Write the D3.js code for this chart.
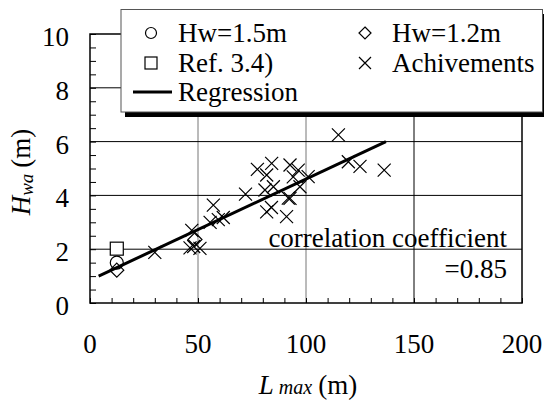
<!DOCTYPE html>
<html lang="en">
<head>
<meta charset="UTF-8">
<title>Hwa vs Lmax</title>
<style>
  body { margin: 0; background: #fff; }
  svg { font-family: "Liberation Serif", "Times New Roman", serif; }
</style>
</head>
<body>
<script src="https://d3js.org/d3.v7.min.js"></script>
<div id="chart"></div>
<script>
// data
var achX = [30, 46.3, 50.9, 47.1, 48, 55.6, 57.1, 61.7, 59.4, 72, 77.5, 84.1, 81.8, 81, 84.9, 81.8, 84, 91, 92.6, 92.6, 96.4, 97.2, 94.1, 101, 91.8, 115, 119.6, 125, 136.2]
var achY = [1.88, 2.05, 2.03, 2.7, 2.1, 3.0, 3.64, 3.18, 3.1, 4.05, 4.97, 5.19, 4.76, 4.2, 4.32, 3.39, 3.55, 3.21, 3.89, 5.13, 4.94, 4.32, 4.69, 4.7, 3.9, 6.25, 5.25, 5.08, 4.94]
var hw15 = [[12.4, 1.5]]
var hw12 = [[12.4, 1.22], [48.6, 2.36]]
var ref34 = [[12.4, 2.02]]
var regX = [4, 137]
var regY = [1.0, 6.0]
var xTicks = [0, 50, 100, 150, 200]
var yTicks = [0, 2, 4, 6, 8, 10]

var fs = 27
var width = 544, height = 403
var svg = d3.select("#chart").append("svg").attr("width", width).attr("height", height)

var x = d3.scaleLinear().domain([0, 200]).range([90, 522])
var y = d3.scaleLinear().domain([0, 10]).range([303, 34])

// grid
svg.selectAll(".vg").data([50, 100, 150]).enter().append("line")
  .attr("x1", d => x(d)).attr("x2", d => x(d)).attr("y1", y(0)).attr("y2", y(10))
  .attr("stroke", d => d == 150 ? "#000" : "#777").attr("stroke-width", 1)
svg.selectAll(".hg").data([2, 4, 6, 8]).enter().append("line")
  .attr("x1", x(0)).attr("x2", x(200)).attr("y1", d => y(d)).attr("y2", d => y(d))
  .attr("stroke", "#000").attr("stroke-width", 1)

// minor ticks (inward)
svg.append("g").attr("transform", "translate(0," + y(0) + ")")
  .call(d3.axisTop(x).tickValues(d3.range(0, 201, 10)).tickSize(5).tickFormat(""))
  .call(g => g.select(".domain").remove())
svg.append("g").attr("transform", "translate(" + x(0) + ",0)")
  .call(d3.axisRight(y).tickValues(d3.range(0, 10.01, 0.5)).tickSize(6).tickFormat(""))
  .call(g => g.select(".domain").remove())

// frame
svg.append("rect").attr("x", x(0)).attr("y", y(10)).attr("width", x(200) - x(0)).attr("height", y(0) - y(10))
  .attr("fill", "none").attr("stroke", "#000").attr("stroke-width", 1.5)

// tick labels
svg.selectAll(".xl").data(xTicks).enter().append("text")
  .attr("x", d => x(d)).attr("y", 353).attr("text-anchor", "middle")
  .style("font-size", fs + "px").text(d => d)
svg.selectAll(".yl").data(yTicks).enter().append("text")
  .attr("x", 69).attr("y", d => y(d) + 12).attr("text-anchor", "end")
  .style("font-size", fs + "px").text(d => d)

// axis titles
var xt = svg.append("text").attr("x", 308).attr("y", 394).attr("text-anchor", "middle").style("font-size", fs + "px")
xt.append("tspan").style("font-style", "italic").text("L")
xt.append("tspan").style("font-style", "italic").style("font-size", (fs - 7) + "px").attr("dx", 5).text("max")
xt.append("tspan").attr("dx", 6).text("(m)")

var yt = svg.append("text").attr("transform", "translate(30,172) rotate(-90)").attr("text-anchor", "middle").style("font-size", fs + "px")
yt.append("tspan").style("font-style", "italic").text("H")
yt.append("tspan").style("font-style", "italic").style("font-size", (fs - 8) + "px").attr("dy", 3).text("wa")
yt.append("tspan").attr("dy", -3).attr("dx", 6).text("(m)")

// regression
svg.append("line").attr("x1", x(regX[0])).attr("y1", y(regY[0])).attr("x2", x(regX[1])).attr("y2", y(regY[1]))
  .attr("stroke", "#000").attr("stroke-width", 3)

// markers
var s = 6.5
svg.selectAll(".ach").data(d3.zip(achX, achY)).enter().append("path")
  .attr("d", d => { var cx = x(d[0]), cy = y(d[1]); return "M" + (cx - s) + "," + (cy - s) + "L" + (cx + s) + "," + (cy + s) + "M" + (cx - s) + "," + (cy + s) + "L" + (cx + s) + "," + (cy - s) })
  .attr("stroke", "#000").attr("stroke-width", 1.2).attr("fill", "none")
svg.selectAll(".sq").data(ref34).enter().append("rect")
  .attr("x", d => x(d[0]) - 6.5).attr("y", d => y(d[1]) - 6.5).attr("width", 13).attr("height", 13)
  .attr("fill", "#fff").attr("stroke", "#000").attr("stroke-width", 1.2)
svg.selectAll(".ci").data(hw15).enter().append("circle")
  .attr("cx", d => x(d[0])).attr("cy", d => y(d[1])).attr("r", 6.5)
  .attr("fill", "none").attr("stroke", "#000").attr("stroke-width", 1.2)
svg.selectAll(".di").data(hw12).enter().append("path")
  .attr("d", d => { var cx = x(d[0]), cy = y(d[1]); return "M" + cx + "," + (cy - 7) + "L" + (cx + 7) + "," + cy + "L" + cx + "," + (cy + 7) + "L" + (cx - 7) + "," + cy + "Z" })
  .attr("fill", "none").attr("stroke", "#000").attr("stroke-width", 1.2)

// correlation text
svg.append("text").attr("x", 507).attr("y", 247).attr("text-anchor", "end").style("font-size", fs + "px").text("correlation coefficient")
svg.append("text").attr("x", 507).attr("y", 278).attr("text-anchor", "end").style("font-size", fs + "px").text("=0.85")

// legend
var lg = svg.append("g")
lg.append("rect").attr("x", 125).attr("y", 14).attr("width", 422).attr("height", 103).attr("fill", "#000")
lg.append("rect").attr("x", 121).attr("y", 9.5).attr("width", 421.5).attr("height", 102.5)
  .attr("fill", "#fff").attr("stroke", "#555").attr("stroke-width", 1)
lg.append("circle").attr("cx", 151).attr("cy", 33).attr("r", 5.5).attr("fill", "none").attr("stroke", "#000").attr("stroke-width", 1.2)
lg.append("rect").attr("x", 145).attr("y", 57).attr("width", 12).attr("height", 12).attr("fill", "none").attr("stroke", "#000").attr("stroke-width", 1.2)
lg.append("line").attr("x1", 133).attr("x2", 172).attr("y1", 92).attr("y2", 92).attr("stroke", "#000").attr("stroke-width", 3)
lg.append("path").attr("d", "M365,27L371,33L365,39L359,33Z").attr("fill", "none").attr("stroke", "#000").attr("stroke-width", 1.2)
lg.append("path").attr("d", "M359,57L371,69M359,69L371,57").attr("stroke", "#000").attr("stroke-width", 1.2)
var legText = [["Hw=1.5m", 178, 42], ["Ref. 3.4)", 178, 72], ["Regression", 178, 101], ["Hw=1.2m", 392, 42], ["Achivements", 392, 72]]
lg.selectAll(".lt").data(legText).enter().append("text")
  .attr("x", d => d[1]).attr("y", d => d[2]).style("font-size", fs + "px").text(d => d[0])
</script>
</body>
</html>
